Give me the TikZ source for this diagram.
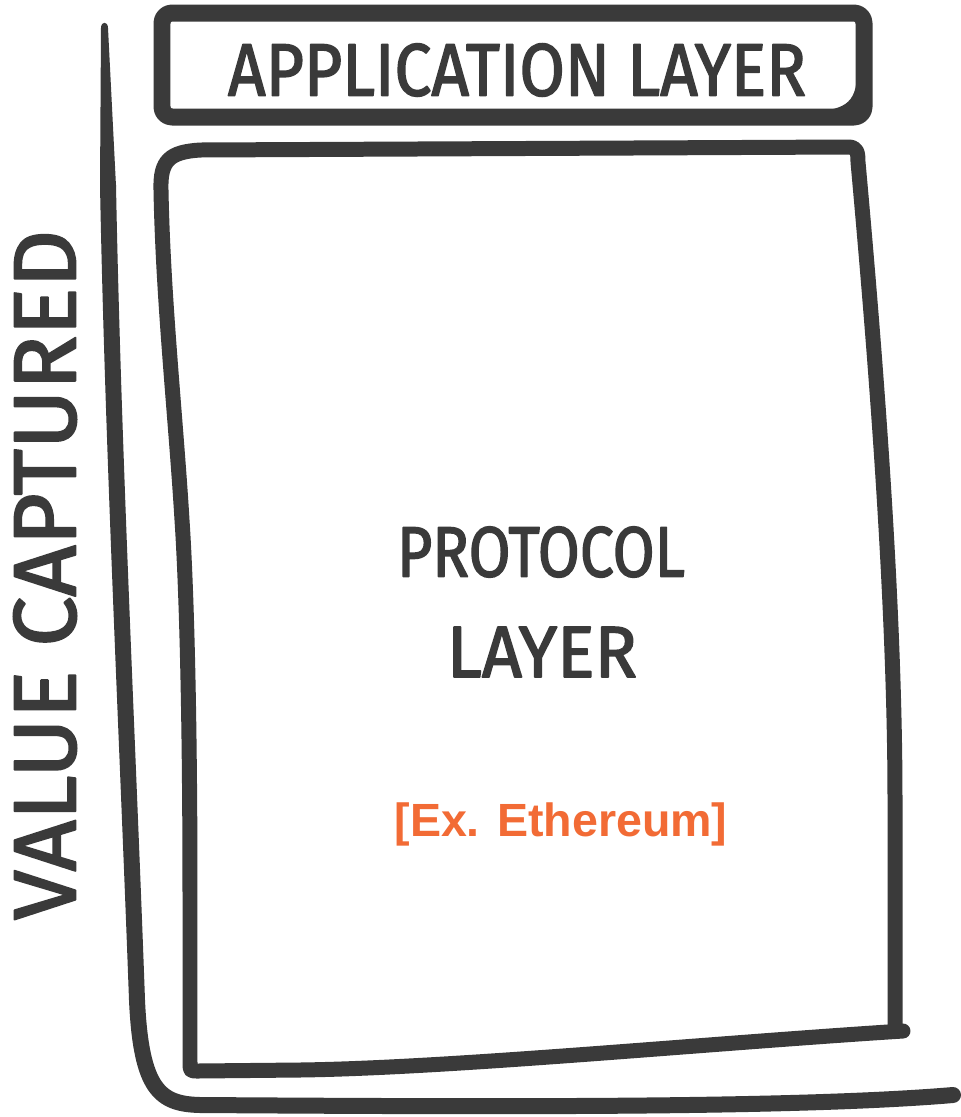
\documentclass[tikz,border=0pt]{standalone}
\usepackage{fontspec}
\setmainfont{Fira Sans}
\newfontfamily\handfont{Fira Sans}[FakeBold=2.2]
\newfontfamily\orfont{Liberation Sans}
\definecolor{ink}{HTML}{3A3A3A}
\definecolor{orng}{RGB}{242,107,53}
\begin{document}
\begin{tikzpicture}[x=0.02cm,y=-0.02cm, line cap=round, line join=round,
  appstroke/.style={draw=ink, line width=0.34cm},
  protostroke/.style={draw=ink, line width=0.3cm},
  axisstroke/.style={draw=ink, line width=0.32cm},
  hand/.style={text=ink, inner sep=0pt, outer sep=0pt, font=\handfont},
  orangelbl/.style={text=orng, inner sep=0pt, outer sep=0pt}]
\useasboundingbox (0,0) rectangle (961,1117);
\fill[white] (0,0) rectangle (961,1117);

% application layer box
\draw[appstroke, rounded corners=0.2cm] (162,13) rectangle (864,117);
\fill[ink] (857,72) .. controls (857,106) and (842,110) .. (808,112) -- (857,112) -- cycle;

% protocol layer box
\draw[protostroke] (903,1031) .. controls (700,1044) and (450,1068) .. (300,1070)
  -- (198,1071) .. controls (190,1071) .. (190,1062)
  -- (190,900) .. controls (190,700) and (186,580) .. (182,520)
  .. controls (176,420) and (163,300) .. (161,190)
  .. controls (160,160) and (170,152) .. (200,150) -- (848,147)
  .. controls (857,147) and (858,152) .. (858,162)
  .. controls (875,350) and (895,600) .. (895,800) -- (895,1024);

% value axis
\fill[ink] (101,28) .. controls (101,21) and (108,21) .. (108,28) -- (116,186) -- (100,186) -- cycle;
\draw[axisstroke] (108,185) .. controls (113,450) and (128,750) .. (137,1000)
  .. controls (141,1090) and (160,1104) .. (200,1105)
  .. controls (500,1107) and (800,1108) .. (953,1095);

% labels
\node[hand] (applbl) at (517,70) {\resizebox{11.56cm}{1.04cm}{APPLICATION LAYER}};
\node[hand] (protoA) at (541,552) {\resizebox{5.76cm}{1.0cm}{PROTOCOL}};
\node[hand] (protoB) at (542,652) {\resizebox{3.8cm}{1.0cm}{LAYER}};
\node[hand, rotate=90] (vallbl) at (45,575) {\resizebox{13.8cm}{1.24cm}{VALUE CAPTURED}};
\node[orangelbl] (exlbl) at (561,824) {\resizebox{6.66cm}{!}{\orfont\bfseries [Ex. Ethereum]}};
\end{tikzpicture}
\end{document}
